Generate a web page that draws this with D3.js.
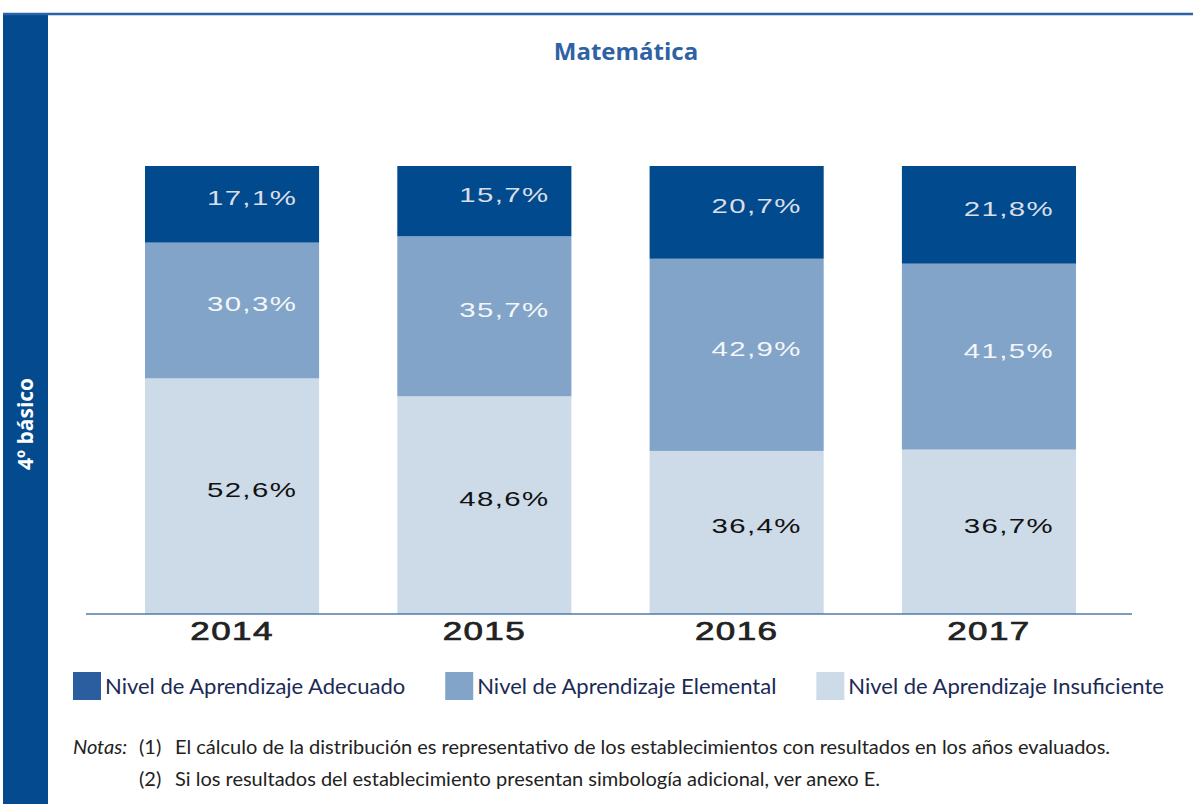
<!DOCTYPE html>
<html>
<head>
<meta charset="utf-8">
<script src="https://cdn.jsdelivr.net/npm/d3@7"></script>
<style>
  body { margin: 0; background: #fff; }
</style>
</head>
<body>
<svg id="chart"></svg>
<script>
// data
const years = ["2014", "2015", "2016", "2017"];
const adecuado = [17.1, 15.7, 20.7, 21.8];
const elemental = [30.3, 35.7, 42.9, 41.5];
const insuficiente = [52.6, 48.6, 36.4, 36.7];
const seriesNames = ["Nivel de Aprendizaje Adecuado", "Nivel de Aprendizaje Elemental", "Nivel de Aprendizaje Insuficiente"];

const width = 1194, height = 804;
const colors = { ins: "#cddbe8", ele: "#81a4c8", ade: "#024a8e" };
const labelColors = { ins: "#111", ele: "#f4f6f9", ade: "#d9dee7" };

const svg = d3.select("#chart")
    .attr("width", width)
    .attr("height", height);

// frame: top rule and side band
svg.append("rect")
    .attr("x", 3).attr("y", 14)
    .attr("width", 45).attr("height", height - 14)
    .attr("fill", "#034a8e");
svg.append("line")
    .attr("x1", 3).attr("x2", 1193)
    .attr("y1", 14).attr("y2", 14)
    .attr("stroke", "#2a63a9")
    .attr("stroke-width", 2.5);

svg.append("text")
    .attr("transform", "translate(33,424) rotate(-90)")
    .attr("text-anchor", "middle")
    .style("font-family", "'Open Sans', Lato, sans-serif")
    .style("font-weight", "bold")
    .style("font-size", "21px")
    .attr("fill", "#fff")
    .text("4º básico");

svg.append("text")
    .attr("x", 626).attr("y", 60)
    .attr("text-anchor", "middle")
    .style("font-family", "'Open Sans', Lato, sans-serif")
    .style("font-weight", "bold")
    .style("font-size", "24px")
    .attr("fill", "#2e62a3")
    .text("Matemática");

// scales
const x = d3.scaleBand()
    .domain(years)
    .range([145, 1076])
    .paddingInner(0.31)
    .paddingOuter(0);

const y = d3.scaleLinear()
    .domain([0, 100])
    .range([614, 166]);

const table = years.map((yr, i) => ({
    year: yr, ins: insuficiente[i], ele: elemental[i], ade: adecuado[i]
}));
const keys = ["ins", "ele", "ade"];
const stacked = d3.stack().keys(keys)(table);

const fmt = v => v.toFixed(1).replace(".", ",") + "%";

const layer = svg.selectAll("g.layer")
    .data(stacked)
    .enter().append("g")
    .attr("class", "layer")
    .attr("fill", d => colors[d.key]);

layer.selectAll("rect")
    .data(d => d)
    .enter().append("rect")
    .attr("x", d => x(d.data.year))
    .attr("width", x.bandwidth())
    .attr("y", d => y(d[1]))
    .attr("height", d => y(d[0]) - y(d[1]));

// value labels
stacked.forEach(s => {
    svg.selectAll(null)
        .data(s)
        .enter().append("text")
        .attr("transform", d => {
            const cx = x(d.data.year) + x.bandwidth() / 2 + 20;
            const cy = (y(d[0]) + y(d[1])) / 2 + 1;
            return "translate(" + cx + "," + cy + ") scale(1.4,1)";
        })
        .attr("text-anchor", "middle")
        .style("font-family", "'Liberation Sans', Arial, sans-serif")
        .style("font-size", "21px")
        .style("letter-spacing", "1px")
        .attr("fill", labelColors[s.key])
        .text(d => fmt(d.data[s.key]));
});

// axis line and year labels
svg.append("line")
    .attr("x1", 86).attr("x2", 1132)
    .attr("y1", y(0)).attr("y2", y(0))
    .attr("stroke", "#4f7aaf")
    .attr("stroke-width", 1.5);

svg.selectAll("text.year")
    .data(years)
    .enter().append("text")
    .attr("class", "year")
    .attr("transform", d => "translate(" + (x(d) + x.bandwidth() / 2) + ",640) scale(1.4,1)")
    .attr("text-anchor", "middle")
    .style("font-family", "'Liberation Sans', Arial, sans-serif")
    .style("font-size", "25px")
    .style("letter-spacing", "1px")
    .attr("fill", "#222")
    .attr("stroke", "#222")
    .attr("stroke-width", 0.7)
    .text(d => d);

// legend
const legendColors = [colors.ade, colors.ele, colors.ins];
let lx = 73;
seriesNames.forEach((name, i) => {
    const g = svg.append("g").attr("transform", "translate(" + lx + ",672)");
    g.append("rect")
        .attr("width", 28).attr("height", 28)
        .attr("fill", i === 0 ? "#2a5e9e" : legendColors[i]);
    const t = g.append("text")
        .attr("x", 32).attr("y", 22)
        .style("font-family", "Lato, sans-serif")
        .style("font-size", "22px")
        .attr("fill", "#1b2a55")
        .text(name);
    lx += 32 + t.node().getComputedTextLength() + 40;
});

// notes
const notes = svg.append("g")
    .style("font-family", "Lato, sans-serif")
    .style("font-size", "20px")
    .attr("fill", "#222");
notes.append("text").attr("x", 73).attr("y", 754)
    .style("font-style", "italic").text("Notas:");
notes.append("text").attr("x", 139).attr("y", 754).text("(1)");
notes.append("text").attr("x", 175).attr("y", 754)
    .text("El cálculo de la distribución es representativo de los establecimientos con resultados en los años evaluados.");
notes.append("text").attr("x", 139).attr("y", 786).text("(2)");
notes.append("text").attr("x", 175).attr("y", 786)
    .text("Si los resultados del establecimiento presentan simbología adicional, ver anexo E.");
</script>
</body>
</html>
